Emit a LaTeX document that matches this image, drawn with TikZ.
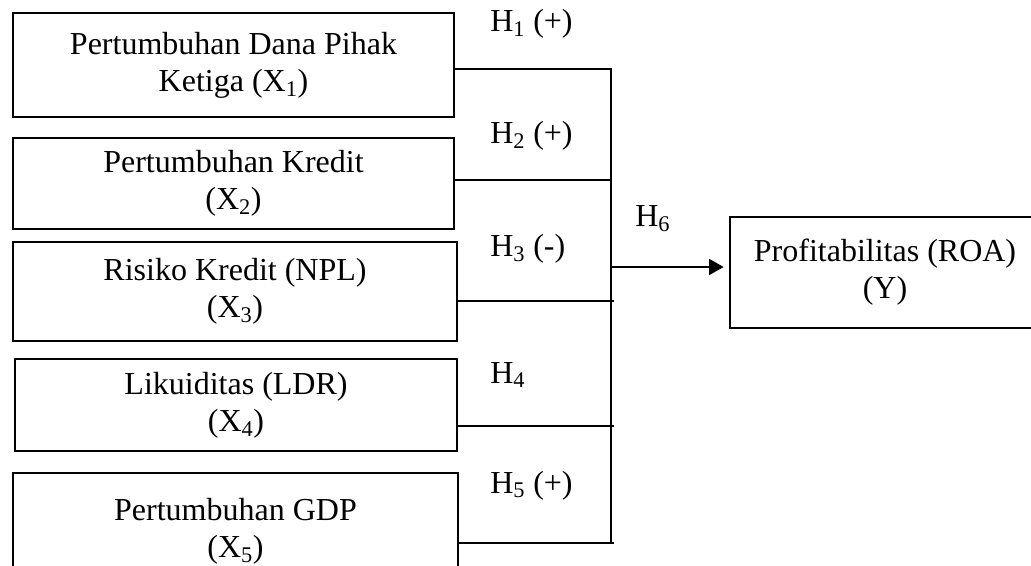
\documentclass[tikz,border=0pt]{standalone}
\usepackage{fontspec}
\setmainfont{Liberation Serif}
\usetikzlibrary{arrows.meta}
\tikzstyle{var_box}=[draw, line width=1.5pt, align=center, inner sep=0pt, font=\fontsize{24}{27.75}\selectfont]
\tikzstyle{hyp_label}=[anchor=base west, inner sep=0pt, font=\fontsize{24}{27.75}\selectfont]
\tikzstyle{link}=[line width=1.5pt]

\begin{document}
\begin{tikzpicture}[x=0.75pt, y=-0.75pt]
          \useasboundingbox (0,0) rectangle (1031,566);
          \clip (0,0) rectangle (1031,566);
          \node[var_box, minimum width=330.75pt, minimum height=78pt] (x1) at (233.5,65) {Pertumbuhan Dana Pihak\\Ketiga (X\textsubscript{1})};
          \node[var_box, minimum width=330.75pt, minimum height=68.25pt] (x2) at (233.5,183.5) {Pertumbuhan Kredit\\(X\textsubscript{2})};
          \node[var_box, minimum width=333pt, minimum height=74.25pt] (x3) at (235,291.5) {Risiko Kredit (NPL)\\(X\textsubscript{3})};
          \node[var_box, minimum width=331.5pt, minimum height=69pt] (x4) at (236,405) {Likuiditas (LDR)\\(X\textsubscript{4})};
          \node[var_box, minimum width=333.75pt, minimum height=87pt] (x5) at (235.5,531) {Pertumbuhan GDP\\(X\textsubscript{5})};
          \node[var_box, minimum width=232.5pt, minimum height=83.25pt] (y) at (885,272.5) {Profitabilitas (ROA)\\(Y)};
          \coordinate (j1) at (611,69);
          \coordinate (j2) at (611,180);
          \coordinate (j3) at (611,301);
          \coordinate (j4) at (611,426);
          \coordinate (j5) at (611,543);
          \coordinate (hub) at (611,267);
          \draw[link](x1.east |- j1) -- (j1) -- (j5);
          \draw[link](x2.east |- j2) -- (j2);
          \draw[link](x3.east |- j3) -- ([xshift=2pt]j3);
          \draw[link](x4.east |- j4) -- ([xshift=2pt]j4);
          \draw[link](x5.east |- j5) -- ([xshift=2pt]j5);
          \draw[link, -{Triangle[length=11pt, width=12pt]}, shorten >=4pt](hub) -- (y.west |- hub);
          \node[hyp_label] (h1) at (490,32) {H\textsubscript{1} (+)};
          \node[hyp_label] (h2) at (490,144) {H\textsubscript{2} (+)};
          \node[hyp_label] (h3) at (490,257) {H\textsubscript{3} (-)};
          \node[hyp_label] (h4) at (490,383) {H\textsubscript{4}};
          \node[hyp_label] (h5) at (490,493) {H\textsubscript{5} (+)};
          \node[hyp_label] (h6) at (635,227) {H\textsubscript{6}};
        \end{tikzpicture}
\end{document}
